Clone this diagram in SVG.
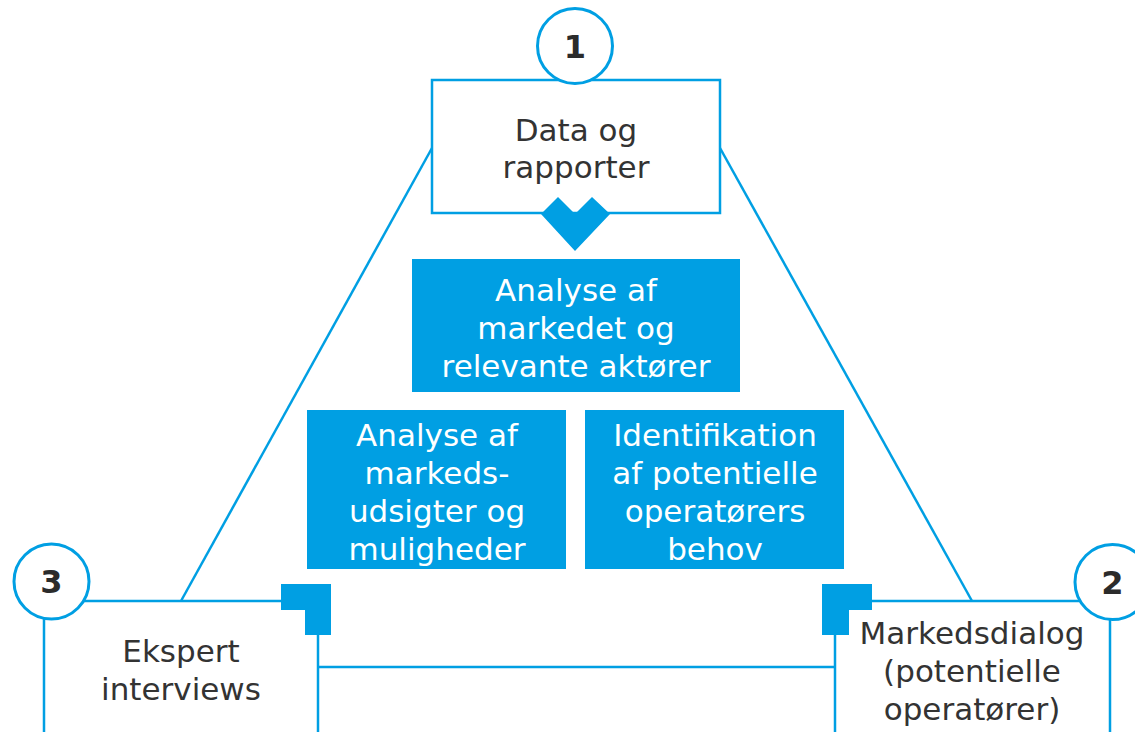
<svg xmlns="http://www.w3.org/2000/svg" width="1135" height="732" viewBox="0 0 1135 732">
<style>
.ln{stroke:#009fe3;stroke-width:2.5;fill:none}
.bl{fill:#009fe3}
.wb{fill:#ffffff;stroke:#009fe3;stroke-width:2.5}
.c{fill:#ffffff;stroke:#009fe3;stroke-width:3}
.t{font-family:"DejaVu Sans",Verdana,sans-serif;font-size:31px;fill:#333333;text-anchor:middle}
.w{font-family:"DejaVu Sans",Verdana,sans-serif;font-size:31px;fill:#ffffff;text-anchor:middle}
.n{font-family:"DejaVu Sans",Verdana,sans-serif;font-size:32px;font-weight:bold;fill:#2b2b2b;text-anchor:middle}
</style>
<rect width="1135" height="732" fill="#ffffff"/>
<g id="connectors">
<line class="ln" x1="432" y1="148" x2="181" y2="601"/>
<line class="ln" x1="720" y1="148" x2="972" y2="601"/>
<line class="ln" x1="318" y1="667" x2="835" y2="667"/>
</g>
<g id="node-1">
<rect class="wb" x="432" y="80" width="288" height="133"/>
<circle class="c" cx="575" cy="46" r="37.5"/>
<text class="n" x="575" y="58">1</text>
<text class="t" x="576" y="141">Data og</text>
<text class="t" x="576" y="178">rapporter</text>
<polygon class="bl" points="541,214 558,197 575,214 592,197 610,214 575,251"/>
</g>
<g id="node-analyse-markedet">
<rect class="bl" x="412" y="259" width="328" height="133"/>
<text class="w" x="576" y="301">Analyse af</text>
<text class="w" x="576" y="339">markedet og</text>
<text class="w" x="576" y="377">relevante aktører</text>
</g>
<g id="node-analyse-markedsudsigter">
<rect class="bl" x="307" y="410" width="259" height="159"/>
<text class="w" x="437" y="446">Analyse af</text>
<text class="w" x="437" y="484">markeds-</text>
<text class="w" x="437" y="522">udsigter og</text>
<text class="w" x="437" y="560">muligheder</text>
</g>
<g id="node-identifikation">
<rect class="bl" x="585" y="410" width="259" height="159"/>
<text class="w" x="715" y="446">Identifikation</text>
<text class="w" x="715" y="484">af potentielle</text>
<text class="w" x="715" y="522">operatørers</text>
<text class="w" x="715" y="560">behov</text>
</g>
<g id="node-3">
<polyline class="ln" points="44,732 44,601 281,601"/>
<line class="ln" x1="318" y1="635" x2="318" y2="732"/>
<polygon class="bl" points="281,584 331,584 331,635 305,635 305,610 281,610"/>
<circle class="c" cx="51.5" cy="581.5" r="37.5"/>
<text class="n" x="51.5" y="593">3</text>
<text class="t" x="181" y="662">Ekspert</text>
<text class="t" x="181" y="700">interviews</text>
</g>
<g id="node-2">
<polyline class="ln" points="872,601 1110,601 1110,732"/>
<line class="ln" x1="835" y1="635" x2="835" y2="732"/>
<polygon class="bl" points="822,584 872,584 872,610 849,610 849,635 822,635"/>
<circle class="c" cx="1112.5" cy="582" r="37.5"/>
<text class="n" x="1112.5" y="594">2</text>
<text class="t" x="972" y="644">Markedsdialog</text>
<text class="t" x="972" y="682">(potentielle</text>
<text class="t" x="972" y="720">operatører)</text>
</g>
</svg>
